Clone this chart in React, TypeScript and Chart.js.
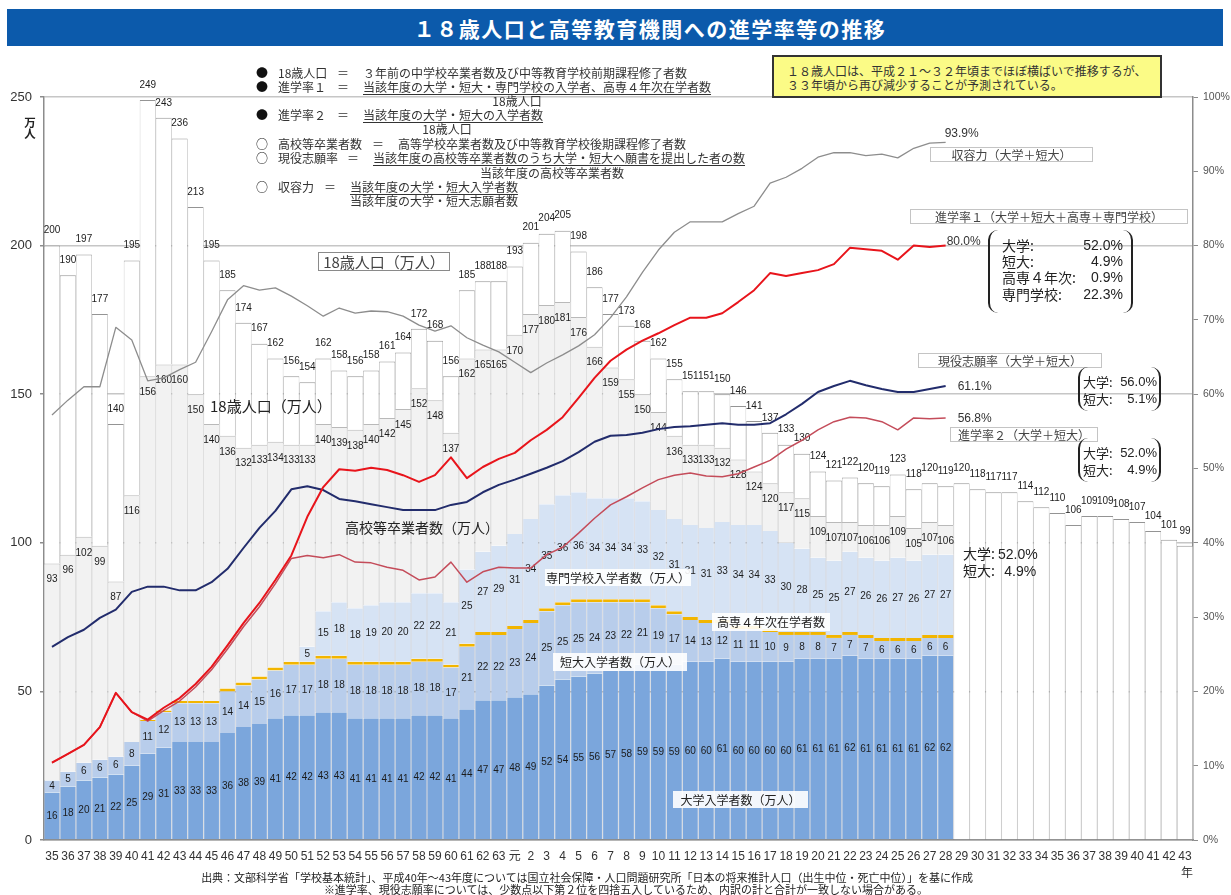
import React, { useEffect, useRef } from 'react';
import { Chart, registerables } from 'chart.js';

Chart.register(...registerables);

// ---------------- data ----------------
const categories = [
  '35','36','37','38','39','40','41','42','43','44','45','46','47','48','49','50','51','52','53','54',
  '55','56','57','58','59','60','61','62','63','元','2','3','4','5','6','7','8','9','10','11',
  '12','13','14','15','16','17','18','19','20','21','22','23','24','25','26','27','28','29','30','31',
  '32','33','34','35','36','37','38','39','40','41','42','43',
];

// 18歳人口 (万人)
const pop18 = [
  200,190,197,177,140,195,249,243,236,213,195,185,174,167,162,156,154,162,158,156,
  158,161,164,172,168,156,185,188,188,
  193,201,204,205,198,186,177,173,168,162,155,151,151,150,146,141,137,133,130,124,
  121,122,120,119,123,118,120,119,
  120,118,117,117,114,112,110,106,109,109,108,107,104,101,99,
];

// 高校等卒業者数 (万人)
const hsGrads = [
  93,96,102,99,87,116,156,160,160,150,140,136,132,133,134,133,133,140,139,138,
  140,142,145,152,148,137,162,165,165,
  170,177,180,181,176,166,159,155,150,144,136,133,133,132,128,124,120,117,115,109,
  107,107,106,106,109,105,107,106,
];

// 大学入学者数 (万人)
const univ = [
  16,18,20,21,22,25,29,31,33,33,33,36,38,39,41,42,42,43,43,41,
  41,41,41,42,42,41,44,47,47,
  48,49,52,54,55,56,57,58,59,59,59,60,60,61,60,60,60,60,61,61,
  61,62,61,61,61,61,62,62,
];

// 短大入学者数 (万人)
const junior = [
  4,5,6,6,6,8,11,12,13,13,13,14,14,15,16,17,17,18,18,18,
  18,18,18,18,18,17,21,22,22,
  23,24,25,25,25,24,23,22,21,19,17,14,13,12,11,11,10,9,8,8,
  7,7,7,6,6,6,6,6,
];

// 高専４年次在学者数 (万人)
const kosen = [
  0,0,0,0,0,0,0.4,0.6,0.8,0.8,0.8,1,1,1,1,1,1,1,1,1,
  1,1,1,1,1,1,1,1,1,
  1,1,1,1,1,1,1,1,1,1,1,1,1,1,1,1,1,1,1,1,
  1,1,1,1,1,1,1,1,
];

// 専門学校入学者数 (万人)
const vocational = [
  0,0,0,0,0,0,0,0,0,0,0,0,0,0,0,0,5,15,18,18,
  19,20,20,22,22,21,25,27,29,
  31,34,35,36,36,34,34,34,33,32,31,31,31,33,34,34,33,30,28,25,
  25,27,26,26,27,26,27,27,
];

// 収容力 (%)
const capacity = [
  57.2,59.2,61.0,61.0,69.0,67.3,61.8,62.2,63.3,64.3,68.4,72.7,74.6,74.0,74.3,73.2,71.9,70.5,71.6,70.9,
  71.2,71.1,70.5,69.3,68.5,69.2,67.6,66.6,65.7,
  64.3,62.9,64.2,65.3,66.5,68.0,70.3,73.1,76.4,79.4,81.8,83.2,83.2,83.2,84.3,85.3,88.4,89.2,90.4,91.9,
  92.5,92.5,92.1,92.3,91.8,93.1,93.8,93.9,
];

// 進学率１ (%)
const rate1 = [
  10.4,11.6,12.8,15.2,19.8,17.2,16.2,17.8,19.1,21.0,23.3,26.2,29.2,31.9,35.0,38.3,43.5,47.5,49.9,49.7,
  50.1,49.8,49.1,48.2,49.1,51.5,48.7,50.2,51.3,
  52.1,53.8,55.2,56.9,59.5,62.2,64.5,66.0,67.2,68.2,69.3,70.3,70.3,70.9,72.4,74.0,76.3,75.9,76.3,76.7,
  77.5,79.7,79.5,79.3,78.1,80.0,79.8,80.0,
];

// 進学率２ (%)
const rate2 = [
  10.4,11.6,12.8,15.2,19.8,17.2,16.0,17.4,18.7,20.6,22.9,25.7,28.7,31.4,34.5,37.9,38.3,38.0,38.4,37.4,
  37.3,36.7,36.3,35.0,35.4,37.4,34.7,36.1,36.7,
  36.6,36.6,38.4,39.4,41.3,43.3,45.1,46.2,47.4,48.5,49.1,49.4,49.0,48.9,49.3,50.2,51.1,52.6,53.8,55.2,
  56.3,56.9,56.8,56.3,55.2,56.8,56.7,56.8,
];

// 現役志願率 (%)
const applyRate = [
  26.0,27.3,28.3,29.9,31.0,33.4,34.1,34.1,33.6,33.6,34.7,36.5,39.3,42.0,44.3,47.2,47.6,47.1,45.9,45.6,
  45.2,44.8,44.4,44.4,44.4,45.1,45.5,46.8,47.8,
  48.5,49.3,50.1,51.0,52.2,53.6,54.4,54.5,54.8,55.3,55.6,55.7,55.9,56.1,55.9,55.9,56.1,57.3,58.7,60.3,
  61.1,61.8,61.2,60.7,60.3,60.3,60.7,61.1,
];

// ---------------- derived tables for the library ----------------
const nActual = univ.length;
const pad = (arr: number[]) => categories.map((_, i) => (i < arr.length ? arr[i] : null));
const stackTop = categories.map((_, i) =>
  i < nActual ? univ[i] + junior[i] + kosen[i] + vocational[i] : null
);
const hsRest = categories.map((_, i) => (i < nActual ? hsGrads[i] - (stackTop[i] as number) : null));
const popRest = categories.map((_, i) => (i < nActual ? pop18[i] - hsGrads[i] : pop18[i]));

const NUM = '"Liberation Sans", "Noto Sans CJK JP", Arial, sans-serif';
const JP = '"Noto Sans CJK JP", "Liberation Sans", sans-serif';

const sideBorder = { top: 0, bottom: 0, left: 0.6, right: 0.6 };
const barCommon = {
  type: 'bar' as const,
  yAxisID: 'y',
  stack: 's',
  order: 1,
  barPercentage: 1,
  categoryPercentage: 1,
  borderSkipped: false as const,
  inflateAmount: 0,
};

const endLabels = [
  { data: capacity, dx: -1, dy: -9 },
  { data: rate1, dx: 1, dy: -4 },
  { data: applyRate, dx: 12, dy: 1 },
  { data: rate2, dx: 12, dy: 1 },
];

const valueLabelPlugin = {
  id: 'valueLabels',
  beforeDatasetsDraw(chart: any) {
    chart.$barsDrawn = 0;
  },
  afterDatasetDraw(chart: any, args: any) {
    if (args.meta.type !== 'bar') return;
    chart.$barsDrawn += 1;
    if (chart.$barsDrawn !== 6) return;
    const { ctx } = chart;
    const xs = chart.scales.x;
    const ys = chart.scales.y;
    ctx.save();
    ctx.font = `10px ${NUM}`;
    ctx.fillStyle = '#1c1c1c';
    ctx.textAlign = 'center';
    ctx.textBaseline = 'middle';
    for (let i = 0; i < categories.length; i++) {
      const cx = xs.getPixelForValue(i);
      ctx.fillText(String(pop18[i]), cx, ys.getPixelForValue(pop18[i]) - 15);
      if (i < nActual) {
        ctx.fillText(String(hsGrads[i]), cx, ys.getPixelForValue(hsGrads[i]) + 16);
        const segs: [number[], boolean][] = [
          [univ, true],
          [junior, true],
          [kosen, false],
          [vocational, true],
        ];
        let base = 0;
        for (const [vals, show] of segs) {
          const v = vals[i];
          if (show && v > 0) {
            ctx.fillText(String(v), cx, ys.getPixelForValue(base + v / 2));
          }
          base += v;
        }
      }
    }
    ctx.restore();
  },
  afterDatasetsDraw(chart: any) {
    const { ctx } = chart;
    const xs = chart.scales.x;
    const y2 = chart.scales.y2;
    ctx.save();
    ctx.font = `12px ${NUM}`;
    ctx.fillStyle = '#333';
    ctx.textAlign = 'left';
    ctx.textBaseline = 'middle';
    for (const l of endLabels) {
      const i = l.data.length - 1;
      const v = l.data[i];
      ctx.fillText(v.toFixed(1) + '%', xs.getPixelForValue(i) + l.dx, y2.getPixelForValue(v) + l.dy);
    }
    ctx.restore();
  },
};

function makeConfig(): any {
  return {
    type: 'bar',
    data: {
      labels: categories,
      datasets: [
        { type: 'line', label: '収容力', yAxisID: 'y2', order: 0, data: pad(capacity), borderColor: '#8d8d8d', borderWidth: 1.3, pointRadius: 0, tension: 0, fill: false },
        { type: 'line', label: '進学率1', yAxisID: 'y2', order: 0, data: pad(rate1), borderColor: '#e8141b', borderWidth: 2, pointRadius: 0, tension: 0, fill: false },
        { type: 'line', label: '進学率2', yAxisID: 'y2', order: 0, data: pad(rate2), borderColor: '#c44c5a', borderWidth: 1.5, pointRadius: 0, tension: 0, fill: false },
        { type: 'line', label: '現役志願率', yAxisID: 'y2', order: 0, data: pad(applyRate), borderColor: '#222c6c', borderWidth: 2, pointRadius: 0, tension: 0, fill: false },
        { ...barCommon, label: '大学入学者数', data: pad(univ), backgroundColor: '#7ba6dc', borderColor: 'rgba(120,135,160,0.6)', borderWidth: sideBorder },
        { ...barCommon, label: '短大入学者数', data: pad(junior), backgroundColor: '#b8cdeb', borderColor: 'rgba(120,135,160,0.6)', borderWidth: sideBorder },
        { ...barCommon, label: '高専４年次在学者数', data: pad(kosen), backgroundColor: '#f2b500', borderColor: 'rgba(190,140,20,0.8)', borderWidth: sideBorder },
        { ...barCommon, label: '専門学校入学者数', data: pad(vocational), backgroundColor: '#d6e3f4', borderColor: 'rgba(140,150,170,0.6)', borderWidth: sideBorder },
        { ...barCommon, label: '高校等卒業者数', data: hsRest, backgroundColor: '#f2f2f2', borderColor: '#b9b9b9', borderWidth: { top: 1, bottom: 0, left: 0.6, right: 0.6 } },
        { ...barCommon, label: '18歳人口', data: popRest, backgroundColor: '#ffffff', borderColor: '#949494', borderWidth: { top: 1, bottom: 0, left: 0.6, right: 0.6 } },
      ],
    },
    options: {
      responsive: false,
      devicePixelRatio: 1,
      animation: false,
      events: [],
      layout: { padding: { top: 97, left: 0, right: 0, bottom: 0 } },
      plugins: { legend: { display: false }, tooltip: { enabled: false } },
      elements: { line: { borderJoinStyle: 'round' } },
      scales: {
        x: {
          stacked: true,
          offset: true,
          grid: { display: false, drawTicks: false },
          border: { display: true, color: '#8c8c8c', width: 1.5 },
          ticks: { autoSkip: false, maxRotation: 0, minRotation: 0, padding: 9, color: '#333', font: { size: 12, family: NUM } },
          afterFit: (s: any) => { s.height = 55; },
        },
        y: {
          stacked: true,
          min: 0,
          max: 250,
          ticks: { stepSize: 50, color: '#333', padding: 8, font: { size: 13, family: NUM } },
          grid: { color: '#c6c6c6', lineWidth: 1.5, tickLength: 4, tickColor: '#8c8c8c' },
          border: { color: '#8c8c8c', width: 1.5 },
          afterFit: (s: any) => { s.width = 44; },
        },
        y2: {
          position: 'right',
          min: 0,
          max: 100,
          ticks: { stepSize: 10, color: '#555', padding: 5, font: { size: 10.5, family: NUM }, callback: (v: any) => v + '%' },
          grid: { drawOnChartArea: false, tickLength: 5, tickColor: '#8c8c8c' },
          border: { color: '#8c8c8c', width: 1.5 },
          afterFit: (s: any) => { s.width = 38; },
        },
      },
    },
    plugins: [valueLabelPlugin],
  };
}

// ---------------- overlay helpers ----------------
const abs = (x: number, y: number, extra: React.CSSProperties = {}): React.CSSProperties => ({
  position: 'absolute',
  left: x,
  top: y,
  whiteSpace: 'nowrap',
  lineHeight: 1,
  ...extra,
});

function TL({ x, y, size = 12, color = '#333', children, style = {} }: any) {
  return <div style={abs(x, y, { fontSize: size, color, transform: 'translateY(-50%)', ...style })}>{children}</div>;
}
function TC({ x, y, size = 12, color = '#333', children, style = {} }: any) {
  return <div style={abs(x, y, { fontSize: size, color, transform: 'translate(-50%,-50%)', ...style })}>{children}</div>;
}
function Box({ x, y, w, h, size = 12, children, border = '1px solid #c4c4c4', bg = '#fff', color = '#444' }: any) {
  return (
    <div style={abs(x, y, { width: w, height: h, boxSizing: 'border-box', border, background: bg, color, fontSize: size, display: 'flex', alignItems: 'center', justifyContent: 'center' })}>
      {children}
    </div>
  );
}
function Def({ y, bullet, name, eqX, textX, text, underline }: any) {
  return (
    <>
      <TC x={262} y={y} size={12} color="#111">{bullet}</TC>
      <TL x={278} y={y}>{name}</TL>
      <TC x={eqX} y={y}>＝</TC>
      <TL x={textX} y={y} style={underline ? { textDecoration: 'underline', textUnderlineOffset: 2 } : {}}>{text}</TL>
    </>
  );
}
function Bracket({ x, y, w, h, rows, labelX, valueRight, rowYs, size = 14 }: any) {
  return (
    <>
      <div style={abs(x, y, { width: w, height: h, boxSizing: 'border-box', borderLeft: '2px solid #222', borderRight: '2px solid #222', borderRadius: 10 })} />
      {rows.map((r: [string, string], k: number) => (
        <React.Fragment key={k}>
          <TL x={labelX} y={rowYs[k]} size={size} color="#222">{r[0]}</TL>
          <div style={abs(0, rowYs[k], { width: valueRight, textAlign: 'right', fontSize: size, color: '#222', transform: 'translateY(-50%)', fontFamily: NUM })}>{r[1]}</div>
        </React.Fragment>
      ))}
    </>
  );
}

export default function App() {
  const ref = useRef<HTMLCanvasElement>(null);
  useEffect(() => {
    if (!ref.current) return;
    const chart = new Chart(ref.current, makeConfig());
    return () => chart.destroy();
  }, []);

  return (
    <div style={{ position: 'absolute', left: 0, top: 0, width: 1231, height: 895, background: '#fff', overflow: 'hidden', fontFamily: JP }}>
      <canvas ref={ref} width={1231} height={895} style={{ position: 'absolute', left: 0, top: 0, width: 1231, height: 895 }} />

      {/* title banner */}
      <div style={abs(7, 9, { width: 1216, height: 37, background: '#0c5aab' })} />
      <TC x={650} y={28} size={21} color="#fff" style={{ fontWeight: 700, letterSpacing: 1.5 }}>１８歳人口と高等教育機関への進学率等の推移</TC>

      {/* axis unit */}
      <div style={abs(24, 117, { fontSize: 11.5, fontWeight: 700, color: '#222', lineHeight: '11px', width: 12, textAlign: 'center' })}>万<br />人</div>
      <TC x={1187} y={872} size={12} color="#333">年</TC>

      {/* definitions */}
      <Def y={73} bullet="●" name="18歳人口" eqX={343} textX={363} text="３年前の中学校卒業者数及び中等教育学校前期課程修了者数" />
      <Def y={87} bullet="●" name="進学率１" eqX={343} textX={363} text="当該年度の大学・短大・専門学校の入学者、高専４年次在学者数" underline />
      <TC x={517} y={101}>18歳人口</TC>
      <Def y={115} bullet="●" name="進学率２" eqX={343} textX={363} text="当該年度の大学・短大の入学者数" underline />
      <TC x={447} y={129}>18歳人口</TC>
      <Def y={144} bullet="○" name="高校等卒業者数" eqX={378} textX={398} text="高等学校卒業者数及び中等教育学校後期課程修了者数" />
      <Def y={158} bullet="○" name="現役志願率" eqX={353} textX={373} text="当該年度の高校等卒業者数のうち大学・短大へ願書を提出した者の数" underline />
      <TC x={552} y={173}>当該年度の高校等卒業者数</TC>
      <Def y={187} bullet="○" name="収容力" eqX={330} textX={350} text="当該年度の大学・短大入学者数" underline />
      <TL x={350} y={201}>当該年度の大学・短大志願者数</TL>

      {/* yellow note */}
      <div style={abs(772, 55, { width: 390, height: 43, boxSizing: 'border-box', background: '#fbfb86', border: '2px solid #333' })} />
      <TL x={787} y={71} size={12} color="#333">１８歳人口は、平成２１～３２年頃までほぼ横ばいで推移するが、</TL>
      <TL x={787} y={85} size={12} color="#333">３３年頃から再び減少することが予測されている。</TL>

      {/* series annotations */}
      <Box x={318} y={252} w={132} h={19} size={15} border="1px solid #8a8a8a">18歳人口（万人）</Box>
      <TL x={210} y={405} size={15} color="#222">18歳人口（万人）</TL>
      <TL x={345} y={527} size={14} color="#222">高校等卒業者数（万人）</TL>
      <Box x={545} y={569} w={146} h={17} size={12} border="none" bg="rgba(255,255,255,0.9)" color="#222">専門学校入学者数（万人）</Box>
      <Box x={712} y={613} w={118} h={18} size={12} border="none" bg="rgba(255,255,255,0.9)" color="#222">高専４年次在学者数</Box>
      <Box x={553} y={653} w={134} h={18} size={12} border="none" bg="rgba(255,255,255,0.9)" color="#222">短大入学者数（万人）</Box>
      <Box x={673} y={791} w={135} h={17} size={12} border="none" bg="rgba(255,255,255,0.9)" color="#222">大学入学者数（万人）</Box>

      <Box x={930} y={147} w={163} h={15}>収容力（大学＋短大）</Box>
      <Box x={910} y={209} w={278} h={15}>進学率１（大学＋短大＋高専＋専門学校）</Box>
      <Box x={918} y={353} w={184} h={15}>現役志願率（大学＋短大）</Box>
      <Box x={950} y={427} w={148} h={15}>進学率２（大学＋短大）</Box>

      <Bracket x={988} y={230} w={145} h={83} labelX={1002} valueRight={1123} rowYs={[245, 261, 277, 294]}
        rows={[['大学:', '52.0%'], ['短大:', '4.9%'], ['高専４年次:', '0.9%'], ['専門学校:', '22.3%']]} />
      <Bracket x={1078} y={367} w={83} h={44} labelX={1083} valueRight={1157} rowYs={[381, 398]} size={13}
        rows={[['大学:', '56.0%'], ['短大:', '5.1%']]} />
      <Bracket x={1078} y={438} w={83} h={44} labelX={1083} valueRight={1157} rowYs={[452, 469]} size={13}
        rows={[['大学:', '52.0%'], ['短大:', '4.9%']]} />
      <TL x={963} y={553} size={14} color="#222">大学: <span style={{ fontFamily: NUM }}>52.0%</span></TL>
      <TL x={963} y={570} size={14} color="#222">短大:&nbsp;&nbsp;&nbsp;<span style={{ fontFamily: NUM }}>4.9%</span></TL>

      {/* footer */}
      <div style={abs(0, 877, { width: 973, textAlign: 'right', fontSize: 11, color: '#222', transform: 'translateY(-50%)' })}>
        出典：文部科学省「学校基本統計」、平成40年～43年度については国立社会保障・人口問題研究所「日本の将来推計人口（出生中位・死亡中位）」を基に作成
      </div>
      <div style={abs(0, 889, { width: 928, textAlign: 'right', fontSize: 11, color: '#222', transform: 'translateY(-50%)' })}>
        ※進学率、現役志願率については、少数点以下第２位を四捨五入しているため、内訳の計と合計が一致しない場合がある。
      </div>
    </div>
  );
}
